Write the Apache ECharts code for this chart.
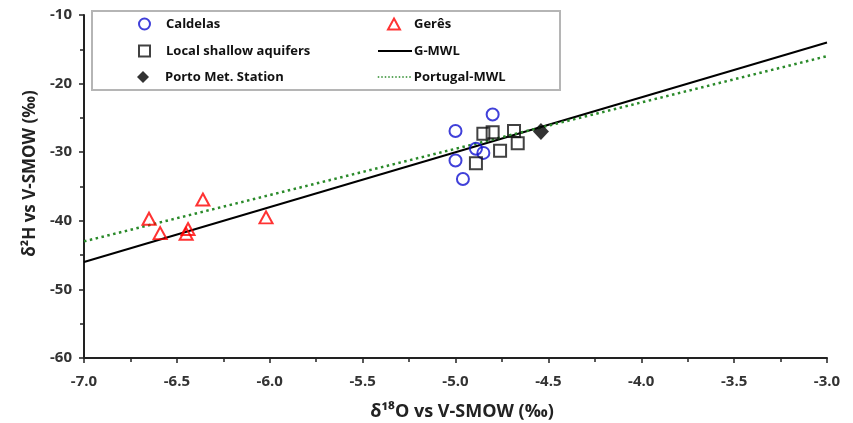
<!DOCTYPE html>
<html><head><meta charset="utf-8">
<script src="https://cdn.jsdelivr.net/npm/echarts@6/dist/echarts.min.js"></script>
<style>html,body{margin:0;padding:0;background:#fff}#c{width:853px;height:423px}</style>
</head><body><div id="c"></div>
<script>
const caldelas = [[-4.80,-24.5],[-5.00,-26.9],[-4.89,-29.5],[-4.85,-30.1],[-5.00,-31.2],[-4.96,-33.9]];
const geres = [[-6.65,-39.7],[-6.59,-41.8],[-6.36,-36.9],[-6.44,-41.2],[-6.45,-41.9],[-6.02,-39.5]];
const shallow = [[-4.85,-27.3],[-4.80,-27.1],[-4.685,-26.9],[-4.665,-28.7],[-4.76,-29.8],[-4.89,-31.6]];
const porto = [[-4.54,-27.0]];
const gmwl = [[-7,-46],[-3,-14]];
const portugalMwl = [[-7,-43],[-3,-16]];
const xTicks = {min:-7, max:-3, step:0.5};
const yTicks = {min:-60, max:-10, step:10};

const FONT = 'Open Sans';
const chart = echarts.init(document.getElementById('c'), null, {renderer:'canvas'});
function lg(name, iconCenter, textLeft, rowCenter, w, h, extra){
  const left = Math.round(iconCenter - w/2);
  const pad = textLeft - (left + w + 5);
  return Object.assign({data:[name], left:left, top:rowCenter - 7, itemWidth:w, itemHeight:h, itemGap:0,
    textStyle:{fontFamily:FONT, fontWeight:'bold', fontSize:13, color:'#111', lineHeight:14, padding:[0,0,0,pad]},
    selectedMode:false, padding:0}, extra||{});
}
chart.setOption({
  animation:false,
  grid:{left:84, right:26, top:15, bottom:65, outerBoundsMode:'none', containLabel:false},
  graphic:[{type:'rect', shape:{x:92, y:11, width:468, height:79}, style:{fill:'#fff', stroke:'#b5b5b5', lineWidth:2}, z:-1}],
  legend:[
    lg('Caldelas',143,165,24,11,11),
    lg('Local shallow aquifers',143,165,51,11,11),
    lg('Porto Met. Station',143,165,77,12,12),
    lg('Gerês',393,413,24,12,11),
    lg('G-MWL',394,413,51,34,12,{itemStyle:{opacity:0}, lineStyle:{width:2}}),
    lg('Portugal-MWL',394,413,77,34,12,{itemStyle:{opacity:0}, lineStyle:{width:1.5, type:[1.5,2]}})
  ],
  xAxis:{type:'value', min:xTicks.min, max:xTicks.max, interval:xTicks.step,
    name:'δ¹⁸O vs V-SMOW (‰)', nameLocation:'middle', nameGap:45,
    nameTextStyle:{fontFamily:FONT, fontWeight:'bold', fontSize:18, color:'#222', padding:[0,0,0,13]},
    axisLine:{lineStyle:{color:'#222', width:2}},
    axisTick:{length:5, lineStyle:{color:'#222', width:1.5}},
    minorTick:{show:true, splitNumber:2, length:4, lineStyle:{color:'#222', width:1.5}},
    splitLine:{show:false},
    axisLabel:{fontFamily:FONT, fontWeight:'bold', fontSize:15, color:'#333', margin:16,
      formatter:v=>v.toFixed(1)}},
  yAxis:{type:'value', min:yTicks.min, max:yTicks.max, interval:yTicks.step,
    name:'δ²H vs V-SMOW (‰)', nameLocation:'middle', nameGap:44, nameRotate:90,
    nameTextStyle:{fontFamily:FONT, fontWeight:'bold', fontSize:17, color:'#222', padding:[0,0,0,26]},
    axisLine:{lineStyle:{color:'#222', width:2}},
    axisTick:{length:5, lineStyle:{color:'#222', width:1.5}},
    minorTick:{show:true, splitNumber:2, length:4, lineStyle:{color:'#222', width:1.5}},
    splitLine:{show:false},
    axisLabel:{fontFamily:FONT, fontWeight:'bold', fontSize:15, color:'#333', margin:12}},
  series:[
    {name:'G-MWL', type:'line', data:gmwl, symbol:'none', z:1,
      lineStyle:{color:'#000', width:2}, itemStyle:{color:'#000'}},
    {name:'Portugal-MWL', type:'line', data:portugalMwl, symbol:'none', z:1,
      lineStyle:{color:'#2a8a2a', width:2.5, type:[2.5,3.5]}, itemStyle:{color:'#2a8a2a'}},
    {name:'Caldelas', type:'scatter', data:caldelas, symbol:'circle', symbolSize:12, z:3,
      itemStyle:{color:'rgba(0,0,0,0)', borderColor:'#1010d0', borderWidth:2}},
    {name:'Gerês', type:'scatter', data:geres, symbol:'triangle', symbolSize:[13,12], z:3,
      itemStyle:{color:'rgba(0,0,0,0)', borderColor:'#ff0000', borderWidth:2}},
    {name:'Local shallow aquifers', type:'scatter', data:shallow, symbol:'rect', symbolSize:12, z:3,
      itemStyle:{color:'rgba(0,0,0,0)', borderColor:'#111', borderWidth:2}},
    {name:'Porto Met. Station', type:'scatter', data:porto, symbol:'diamond', symbolSize:[16,17], z:4,
      itemStyle:{color:'#000'}}
  ]
});
</script></body></html>
